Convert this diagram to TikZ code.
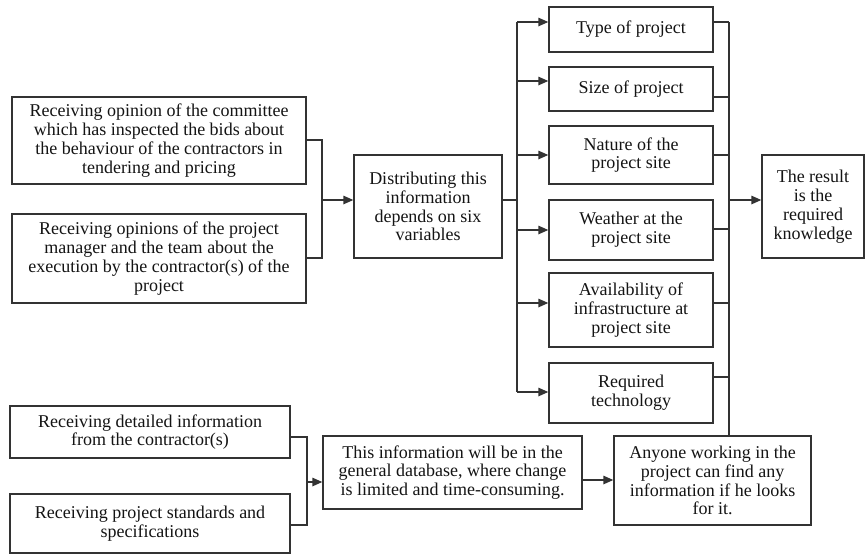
\documentclass[tikz,border=0pt]{standalone}
\usepackage{fontspec}
\setmainfont{Liberation Serif}
\usetikzlibrary{arrows.meta}
\definecolor{boxline}{HTML}{333333}
\definecolor{textcol}{HTML}{141414}
\begin{document}
\begin{tikzpicture}[x=1pt,y=-1pt,
  box/.style={draw=boxline, line width=1.4pt, align=center, inner sep=1pt,
    font=\fontsize{18}{18.8}\selectfont, text=textcol},
  link/.style={draw=boxline, line width=1.4pt},
  arr/.style={link, -{Triangle[length=10pt,width=8.5pt]}}]

% canvas
\fill[white] (0,0) rectangle (866,555);
\useasboundingbox (0,0) rectangle (866,555);

% input boxes (upper group)
\node[box, minimum width=294, minimum height=87] (A) at (159,140.5)
  {Receiving opinion of the committee\\which has inspected the bids about\\the behaviour of the contractors in\\tendering and pricing};
\node[box, minimum width=294, minimum height=89] (B) at (159,258.5)
  {Receiving opinions of the project\\manager and the team about the\\execution by the contractor(s) of the\\project};

% distribution box
\node[box, minimum width=148, minimum height=103] (C) at (428,206.5)
  {\raisebox{5pt}{\parbox{140pt}{\centering Distributing this\\information\\depends on six\\variables}}};

% the six variables
\node[box, minimum width=164, minimum height=45] (T1) at (631,29.5) {\raisebox{3pt}{Type of project}};
\node[box, minimum width=164, minimum height=44] (T2) at (631,89) {\raisebox{3pt}{Size of project}};
\node[box, minimum width=164, minimum height=58] (T3) at (631,155) {Nature of the\\project site};
\node[box, minimum width=164, minimum height=60] (T4) at (631,230) {Weather at the\\project site};
\node[box, minimum width=164, minimum height=74] (T5) at (631,310) {Availability of\\infrastructure at\\project site};
\node[box, minimum width=164, minimum height=60] (T6) at (631,393)
  {\raisebox{4pt}{\parbox{150pt}{\centering Required\\technology}}};

% result
\node[box, minimum width=102, minimum height=103] (R) at (813,206.5)
  {The result\\is the\\required\\knowledge};

% lower group
\node[box, minimum width=280, minimum height=52] (D) at (150,432)
  {Receiving detailed information\\from the contractor(s)};
\node[box, minimum width=280, minimum height=59] (E) at (150,523.5)
  {Receiving project standards and\\specifications};
\node[box, minimum width=259, minimum height=73] (F) at (452.5,472.5)
  {This information will be in the\\general database, where change\\is limited and time-consuming.};
\node[box, minimum width=197, minimum height=89] (G) at (712.5,480.5)
  {Anyone working in the\\project can find any\\information if he looks\\for it.};

% junction points
\coordinate (jAB) at (322,200);
\coordinate (split) at (517,200);
\coordinate (merge) at (729,200);
\coordinate (jDE) at (307,482);

% upper inputs merge into C
\draw[link] ([yshift=0.5pt]A.east) -| (jAB);
\draw[link] ([yshift=0.5pt]B.east) -| (jAB);
\draw[arr] (jAB) -- (C.west |- jAB);

% C fans out to the six variables
\coordinate (a1) at (517,22);
\coordinate (a2) at (517,81);
\coordinate (a3) at (517,155);
\coordinate (a4) at (517,230);
\coordinate (a5) at (517,303);
\coordinate (a6) at (517,392);
\draw[link] (C.east |- split) -- (split);
\draw[link] (a1) -- (a6);
\foreach \i in {1,...,6} \draw[arr] (a\i) -- (T\i.west |- a\i);

% variables collected into the result
\coordinate (b1) at (729,22);
\coordinate (b2) at (729,97);
\coordinate (b3) at (729,155);
\coordinate (b4) at (729,229);
\coordinate (b5) at (729,303);
\coordinate (b6) at (729,377);
\foreach \i in {1,...,6} \draw[link] (T\i.east |- b\i) -- (b\i);
\draw[link] (b1) -- (merge |- G.north);
\draw[arr] (merge) -- (R.west |- merge);

% lower chain
\draw[link] (D.east |- 0,437) -| (jDE);
\draw[link] (E.east |- 0,525) -| (jDE);
\draw[arr] (jDE) -- (F.west |- jDE);
\draw[arr] (F.east |- 0,480) -- (G.west |- 0,480);

\end{tikzpicture}
\end{document}
